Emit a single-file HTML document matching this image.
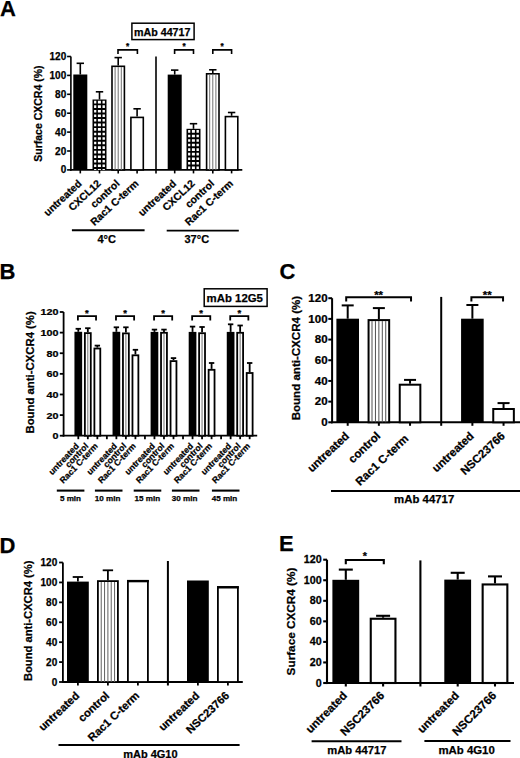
<!DOCTYPE html>
<html><head><meta charset="utf-8"><style>
html,body{margin:0;padding:0;background:#fff;width:520px;height:758px;overflow:hidden}
text{font-family:"Liberation Sans", sans-serif;stroke:#000;stroke-width:0.25px}
</style></head><body>
<svg width="520" height="758" viewBox="0 0 520 758" font-family='"Liberation Sans", sans-serif' style="display:block"><defs></defs><text x="0.00" y="15.60" font-size="22" text-anchor="start" font-weight="bold">A</text>
<rect x="131.9" y="23.2" width="62.2" height="16.4" fill="#fff" stroke="#000" stroke-width="1.5"/>
<text x="134.00" y="35.80" font-size="10.7" text-anchor="start" font-weight="bold">mAb 44717</text>
<line x1="70.90" y1="56.50" x2="70.90" y2="170.70" stroke="#000" stroke-width="1.6"/>
<line x1="70.10" y1="169.90" x2="242.30" y2="169.90" stroke="#000" stroke-width="1.6"/>
<line x1="67.10" y1="169.90" x2="70.90" y2="169.90" stroke="#000" stroke-width="1.6"/>
<text x="0" y="0" font-size="10" text-anchor="end" font-weight="bold" transform="translate(66.20 173.45) scale(1.0 1)">0</text>
<line x1="67.10" y1="151.00" x2="70.90" y2="151.00" stroke="#000" stroke-width="1.6"/>
<text x="0" y="0" font-size="10" text-anchor="end" font-weight="bold" transform="translate(66.20 154.55) scale(1.0 1)">20</text>
<line x1="67.10" y1="132.10" x2="70.90" y2="132.10" stroke="#000" stroke-width="1.6"/>
<text x="0" y="0" font-size="10" text-anchor="end" font-weight="bold" transform="translate(66.20 135.65) scale(1.0 1)">40</text>
<line x1="67.10" y1="113.20" x2="70.90" y2="113.20" stroke="#000" stroke-width="1.6"/>
<text x="0" y="0" font-size="10" text-anchor="end" font-weight="bold" transform="translate(66.20 116.75) scale(1.0 1)">60</text>
<line x1="67.10" y1="94.30" x2="70.90" y2="94.30" stroke="#000" stroke-width="1.6"/>
<text x="0" y="0" font-size="10" text-anchor="end" font-weight="bold" transform="translate(66.20 97.85) scale(1.0 1)">80</text>
<line x1="67.10" y1="75.40" x2="70.90" y2="75.40" stroke="#000" stroke-width="1.6"/>
<text x="0" y="0" font-size="10" text-anchor="end" font-weight="bold" transform="translate(66.20 78.95) scale(1.0 1)">100</text>
<line x1="67.10" y1="56.50" x2="70.90" y2="56.50" stroke="#000" stroke-width="1.6"/>
<text x="0" y="0" font-size="10" text-anchor="end" font-weight="bold" transform="translate(66.20 60.05) scale(1.0 1)">120</text>
<text x="41.90" y="113.60" font-size="10.5" text-anchor="middle" font-weight="bold" transform="rotate(-90 41.90 113.60)">Surface CXCR4 (%)</text>
<line x1="80.30" y1="74.50" x2="80.30" y2="63.30" stroke="#000" stroke-width="1.6"/>
<line x1="76.60" y1="63.30" x2="84.00" y2="63.30" stroke="#000" stroke-width="1.6"/>
<rect x="73.30" y="74.50" width="14.00" height="95.40" fill="#000"/>
<line x1="80.30" y1="169.90" x2="80.30" y2="173.40" stroke="#000" stroke-width="1.6"/>
<line x1="99.50" y1="99.50" x2="99.50" y2="91.80" stroke="#000" stroke-width="1.6"/>
<line x1="95.80" y1="91.80" x2="103.20" y2="91.80" stroke="#000" stroke-width="1.6"/>
<rect x="92.50" y="99.50" width="14.00" height="70.40" fill="#000"/>
<path d="M94.10 100.80h2.2v2.60h-2.2zM97.90 100.80h3.0v2.60h-3.0zM102.50 100.80h2.4v2.60h-2.4zM94.10 105.35h2.2v2.60h-2.2zM97.90 105.35h3.0v2.60h-3.0zM102.50 105.35h2.4v2.60h-2.4zM94.10 109.90h2.2v2.60h-2.2zM97.90 109.90h3.0v2.60h-3.0zM102.50 109.90h2.4v2.60h-2.4zM94.10 114.45h2.2v2.60h-2.2zM97.90 114.45h3.0v2.60h-3.0zM102.50 114.45h2.4v2.60h-2.4zM94.10 119.00h2.2v2.60h-2.2zM97.90 119.00h3.0v2.60h-3.0zM102.50 119.00h2.4v2.60h-2.4zM94.10 123.55h2.2v2.60h-2.2zM97.90 123.55h3.0v2.60h-3.0zM102.50 123.55h2.4v2.60h-2.4zM94.10 128.10h2.2v2.60h-2.2zM97.90 128.10h3.0v2.60h-3.0zM102.50 128.10h2.4v2.60h-2.4zM94.10 132.65h2.2v2.60h-2.2zM97.90 132.65h3.0v2.60h-3.0zM102.50 132.65h2.4v2.60h-2.4zM94.10 137.20h2.2v2.60h-2.2zM97.90 137.20h3.0v2.60h-3.0zM102.50 137.20h2.4v2.60h-2.4zM94.10 141.75h2.2v2.60h-2.2zM97.90 141.75h3.0v2.60h-3.0zM102.50 141.75h2.4v2.60h-2.4zM94.10 146.30h2.2v2.60h-2.2zM97.90 146.30h3.0v2.60h-3.0zM102.50 146.30h2.4v2.60h-2.4zM94.10 150.85h2.2v2.60h-2.2zM97.90 150.85h3.0v2.60h-3.0zM102.50 150.85h2.4v2.60h-2.4zM94.10 155.40h2.2v2.60h-2.2zM97.90 155.40h3.0v2.60h-3.0zM102.50 155.40h2.4v2.60h-2.4zM94.10 159.95h2.2v2.60h-2.2zM97.90 159.95h3.0v2.60h-3.0zM102.50 159.95h2.4v2.60h-2.4zM94.10 164.50h2.2v2.60h-2.2zM97.90 164.50h3.0v2.60h-3.0zM102.50 164.50h2.4v2.60h-2.4zM94.10 169.05h2.2v0.85h-2.2zM97.90 169.05h3.0v0.85h-3.0zM102.50 169.05h2.4v0.85h-2.4z" fill="#fff"/>
<line x1="99.50" y1="169.90" x2="99.50" y2="173.40" stroke="#000" stroke-width="1.6"/>
<line x1="118.20" y1="65.50" x2="118.20" y2="57.60" stroke="#000" stroke-width="1.6"/>
<line x1="114.50" y1="57.60" x2="121.90" y2="57.60" stroke="#000" stroke-width="1.6"/>
<rect x="112.00" y="66.30" width="12.40" height="103.60" fill="#fff" stroke="#000" stroke-width="1.6"/>
<line x1="115.10" y1="67.10" x2="115.10" y2="169.90" stroke="#707070" stroke-width="1.0"/>
<line x1="118.20" y1="67.10" x2="118.20" y2="169.90" stroke="#707070" stroke-width="1.0"/>
<line x1="121.30" y1="67.10" x2="121.30" y2="169.90" stroke="#707070" stroke-width="1.0"/>
<line x1="118.20" y1="169.90" x2="118.20" y2="173.40" stroke="#000" stroke-width="1.6"/>
<line x1="137.10" y1="116.60" x2="137.10" y2="108.80" stroke="#000" stroke-width="1.6"/>
<line x1="133.40" y1="108.80" x2="140.80" y2="108.80" stroke="#000" stroke-width="1.6"/>
<rect x="130.90" y="117.40" width="12.40" height="52.50" fill="#fff" stroke="#000" stroke-width="1.6"/>
<line x1="137.10" y1="169.90" x2="137.10" y2="173.40" stroke="#000" stroke-width="1.6"/>
<line x1="156.00" y1="56.50" x2="156.00" y2="173.50" stroke="#000" stroke-width="1.6"/>
<line x1="174.70" y1="74.60" x2="174.70" y2="70.10" stroke="#000" stroke-width="1.6"/>
<line x1="171.00" y1="70.10" x2="178.40" y2="70.10" stroke="#000" stroke-width="1.6"/>
<rect x="167.70" y="74.60" width="14.00" height="95.30" fill="#000"/>
<line x1="174.70" y1="169.90" x2="174.70" y2="173.40" stroke="#000" stroke-width="1.6"/>
<line x1="193.50" y1="128.80" x2="193.50" y2="123.70" stroke="#000" stroke-width="1.6"/>
<line x1="189.80" y1="123.70" x2="197.20" y2="123.70" stroke="#000" stroke-width="1.6"/>
<rect x="186.50" y="128.80" width="14.00" height="41.10" fill="#000"/>
<path d="M188.10 130.10h2.2v2.60h-2.2zM191.90 130.10h3.0v2.60h-3.0zM196.50 130.10h2.4v2.60h-2.4zM188.10 134.65h2.2v2.60h-2.2zM191.90 134.65h3.0v2.60h-3.0zM196.50 134.65h2.4v2.60h-2.4zM188.10 139.20h2.2v2.60h-2.2zM191.90 139.20h3.0v2.60h-3.0zM196.50 139.20h2.4v2.60h-2.4zM188.10 143.75h2.2v2.60h-2.2zM191.90 143.75h3.0v2.60h-3.0zM196.50 143.75h2.4v2.60h-2.4zM188.10 148.30h2.2v2.60h-2.2zM191.90 148.30h3.0v2.60h-3.0zM196.50 148.30h2.4v2.60h-2.4zM188.10 152.85h2.2v2.60h-2.2zM191.90 152.85h3.0v2.60h-3.0zM196.50 152.85h2.4v2.60h-2.4zM188.10 157.40h2.2v2.60h-2.2zM191.90 157.40h3.0v2.60h-3.0zM196.50 157.40h2.4v2.60h-2.4zM188.10 161.95h2.2v2.60h-2.2zM191.90 161.95h3.0v2.60h-3.0zM196.50 161.95h2.4v2.60h-2.4zM188.10 166.50h2.2v2.60h-2.2zM191.90 166.50h3.0v2.60h-3.0zM196.50 166.50h2.4v2.60h-2.4z" fill="#fff"/>
<line x1="193.50" y1="169.90" x2="193.50" y2="173.40" stroke="#000" stroke-width="1.6"/>
<line x1="212.80" y1="73.00" x2="212.80" y2="69.80" stroke="#000" stroke-width="1.6"/>
<line x1="209.10" y1="69.80" x2="216.50" y2="69.80" stroke="#000" stroke-width="1.6"/>
<rect x="206.60" y="73.80" width="12.40" height="96.10" fill="#fff" stroke="#000" stroke-width="1.6"/>
<line x1="209.70" y1="74.60" x2="209.70" y2="169.90" stroke="#707070" stroke-width="1.0"/>
<line x1="212.80" y1="74.60" x2="212.80" y2="169.90" stroke="#707070" stroke-width="1.0"/>
<line x1="215.90" y1="74.60" x2="215.90" y2="169.90" stroke="#707070" stroke-width="1.0"/>
<line x1="212.80" y1="169.90" x2="212.80" y2="173.40" stroke="#000" stroke-width="1.6"/>
<line x1="231.60" y1="115.80" x2="231.60" y2="112.50" stroke="#000" stroke-width="1.6"/>
<line x1="227.90" y1="112.50" x2="235.30" y2="112.50" stroke="#000" stroke-width="1.6"/>
<rect x="225.40" y="116.60" width="12.40" height="53.30" fill="#fff" stroke="#000" stroke-width="1.6"/>
<line x1="231.60" y1="169.90" x2="231.60" y2="173.40" stroke="#000" stroke-width="1.6"/>
<path d="M118.00 53.90V49.90H137.40V53.90" fill="none" stroke="#000" stroke-width="1.6"/>
<text x="127.70" y="48.60" font-size="8.2" text-anchor="middle" font-weight="bold">*</text>
<path d="M174.60 53.90V49.90H193.50V53.90" fill="none" stroke="#000" stroke-width="1.6"/>
<text x="184.05" y="48.60" font-size="8.2" text-anchor="middle" font-weight="bold">*</text>
<path d="M212.80 53.90V49.90H231.60V53.90" fill="none" stroke="#000" stroke-width="1.6"/>
<text x="222.20" y="48.60" font-size="8.2" text-anchor="middle" font-weight="bold">*</text>
<text x="0" y="0" font-size="10.4" text-anchor="end" font-weight="bold" transform="translate(82.40 184.40) rotate(-43)">untreated</text>
<text x="0" y="0" font-size="10.4" text-anchor="end" font-weight="bold" transform="translate(101.60 184.40) rotate(-43)">CXCL12</text>
<text x="0" y="0" font-size="10.4" text-anchor="end" font-weight="bold" transform="translate(120.30 184.40) rotate(-43)">control</text>
<text x="0" y="0" font-size="10.4" text-anchor="end" font-weight="bold" transform="translate(139.20 184.40) rotate(-43)">Rac1 C-term</text>
<text x="0" y="0" font-size="10.4" text-anchor="end" font-weight="bold" transform="translate(176.80 184.40) rotate(-43)">untreated</text>
<text x="0" y="0" font-size="10.4" text-anchor="end" font-weight="bold" transform="translate(195.60 184.40) rotate(-43)">CXCL12</text>
<text x="0" y="0" font-size="10.4" text-anchor="end" font-weight="bold" transform="translate(214.90 184.40) rotate(-43)">control</text>
<text x="0" y="0" font-size="10.4" text-anchor="end" font-weight="bold" transform="translate(233.70 184.40) rotate(-43)">Rac1 C-term</text>
<line x1="71.90" y1="230.30" x2="144.60" y2="230.30" stroke="#000" stroke-width="1.9"/>
<line x1="166.70" y1="230.60" x2="238.80" y2="230.60" stroke="#000" stroke-width="1.9"/>
<text x="106.70" y="242.80" font-size="11" text-anchor="middle" font-weight="bold">4°C</text>
<text x="196.80" y="242.80" font-size="11" text-anchor="middle" font-weight="bold">37°C</text>
<text x="-0.50" y="279.20" font-size="22" text-anchor="start" font-weight="bold">B</text>
<rect x="204.2" y="288.8" width="62.9" height="17.6" fill="#fff" stroke="#000" stroke-width="1.5"/>
<text x="206.60" y="302.00" font-size="11.4" text-anchor="start" font-weight="bold">mAb 12G5</text>
<line x1="63.60" y1="312.00" x2="63.60" y2="436.60" stroke="#000" stroke-width="1.8"/>
<line x1="62.70" y1="435.70" x2="257.20" y2="435.70" stroke="#000" stroke-width="1.8"/>
<line x1="59.80" y1="435.70" x2="63.60" y2="435.70" stroke="#000" stroke-width="1.8"/>
<text x="0" y="0" font-size="9.8" text-anchor="end" font-weight="bold" transform="translate(58.50 439.18) scale(1.1 1)">0</text>
<line x1="59.80" y1="415.08" x2="63.60" y2="415.08" stroke="#000" stroke-width="1.8"/>
<text x="0" y="0" font-size="9.8" text-anchor="end" font-weight="bold" transform="translate(58.50 418.56) scale(1.1 1)">20</text>
<line x1="59.80" y1="394.47" x2="63.60" y2="394.47" stroke="#000" stroke-width="1.8"/>
<text x="0" y="0" font-size="9.8" text-anchor="end" font-weight="bold" transform="translate(58.50 397.95) scale(1.1 1)">40</text>
<line x1="59.80" y1="373.85" x2="63.60" y2="373.85" stroke="#000" stroke-width="1.8"/>
<text x="0" y="0" font-size="9.8" text-anchor="end" font-weight="bold" transform="translate(58.50 377.33) scale(1.1 1)">60</text>
<line x1="59.80" y1="353.23" x2="63.60" y2="353.23" stroke="#000" stroke-width="1.8"/>
<text x="0" y="0" font-size="9.8" text-anchor="end" font-weight="bold" transform="translate(58.50 356.71) scale(1.1 1)">80</text>
<line x1="59.80" y1="332.62" x2="63.60" y2="332.62" stroke="#000" stroke-width="1.8"/>
<text x="0" y="0" font-size="9.8" text-anchor="end" font-weight="bold" transform="translate(58.50 336.10) scale(1.1 1)">100</text>
<line x1="59.80" y1="312.00" x2="63.60" y2="312.00" stroke="#000" stroke-width="1.8"/>
<text x="0" y="0" font-size="9.8" text-anchor="end" font-weight="bold" transform="translate(58.50 315.48) scale(1.1 1)">120</text>
<text x="33.80" y="372.40" font-size="11.35" text-anchor="middle" font-weight="bold" transform="rotate(-90 33.80 372.40)">Bound anti-CXCR4 (%)</text>
<line x1="78.30" y1="331.80" x2="78.30" y2="328.80" stroke="#000" stroke-width="1.8"/>
<line x1="75.60" y1="328.80" x2="81.00" y2="328.80" stroke="#000" stroke-width="1.8"/>
<rect x="74.45" y="331.80" width="7.70" height="103.90" fill="#000"/>
<line x1="78.30" y1="435.70" x2="78.30" y2="439.20" stroke="#000" stroke-width="1.8"/>
<line x1="87.82" y1="332.20" x2="87.82" y2="328.20" stroke="#000" stroke-width="1.8"/>
<line x1="85.12" y1="328.20" x2="90.52" y2="328.20" stroke="#000" stroke-width="1.8"/>
<rect x="84.87" y="333.10" width="5.90" height="102.60" fill="#fff" stroke="#000" stroke-width="1.8"/>
<line x1="87.82" y1="334.00" x2="87.82" y2="435.70" stroke="#707070" stroke-width="1.0"/>
<line x1="87.82" y1="435.70" x2="87.82" y2="439.20" stroke="#000" stroke-width="1.8"/>
<line x1="97.34" y1="347.60" x2="97.34" y2="345.60" stroke="#000" stroke-width="1.8"/>
<line x1="94.64" y1="345.60" x2="100.04" y2="345.60" stroke="#000" stroke-width="1.8"/>
<rect x="94.39" y="348.50" width="5.90" height="87.20" fill="#fff" stroke="#000" stroke-width="1.8"/>
<line x1="97.34" y1="435.70" x2="97.34" y2="439.20" stroke="#000" stroke-width="1.8"/>
<line x1="106.86" y1="435.70" x2="106.86" y2="439.20" stroke="#000" stroke-width="1.8"/>
<path d="M77.90 320.40V316.20H96.04V320.40" fill="none" stroke="#000" stroke-width="1.8"/>
<text x="86.97" y="316.40" font-size="9.5" text-anchor="middle" font-weight="bold">*</text>
<text x="0" y="0" font-size="9.0" text-anchor="end" font-weight="bold" transform="translate(79.30 446.60) scale(0.936 1) rotate(-45)">untreated</text>
<text x="0" y="0" font-size="9.0" text-anchor="end" font-weight="bold" transform="translate(88.82 446.60) scale(0.936 1) rotate(-45)">control</text>
<text x="0" y="0" font-size="9.0" text-anchor="end" font-weight="bold" transform="translate(98.34 446.60) scale(0.936 1) rotate(-45)">Rac1 C-term</text>
<line x1="56.80" y1="490.60" x2="84.40" y2="490.60" stroke="#000" stroke-width="2.1"/>
<text x="70.50" y="500.50" font-size="8.1" text-anchor="middle" font-weight="bold">5 min</text>
<line x1="116.38" y1="331.80" x2="116.38" y2="327.30" stroke="#000" stroke-width="1.8"/>
<line x1="113.68" y1="327.30" x2="119.08" y2="327.30" stroke="#000" stroke-width="1.8"/>
<rect x="112.53" y="331.80" width="7.70" height="103.90" fill="#000"/>
<line x1="116.38" y1="435.70" x2="116.38" y2="439.20" stroke="#000" stroke-width="1.8"/>
<line x1="125.90" y1="332.50" x2="125.90" y2="327.30" stroke="#000" stroke-width="1.8"/>
<line x1="123.20" y1="327.30" x2="128.60" y2="327.30" stroke="#000" stroke-width="1.8"/>
<rect x="122.95" y="333.40" width="5.90" height="102.30" fill="#fff" stroke="#000" stroke-width="1.8"/>
<line x1="125.90" y1="334.30" x2="125.90" y2="435.70" stroke="#707070" stroke-width="1.0"/>
<line x1="125.90" y1="435.70" x2="125.90" y2="439.20" stroke="#000" stroke-width="1.8"/>
<line x1="135.42" y1="354.40" x2="135.42" y2="349.80" stroke="#000" stroke-width="1.8"/>
<line x1="132.72" y1="349.80" x2="138.12" y2="349.80" stroke="#000" stroke-width="1.8"/>
<rect x="132.47" y="355.30" width="5.90" height="80.40" fill="#fff" stroke="#000" stroke-width="1.8"/>
<line x1="135.42" y1="435.70" x2="135.42" y2="439.20" stroke="#000" stroke-width="1.8"/>
<line x1="144.94" y1="435.70" x2="144.94" y2="439.20" stroke="#000" stroke-width="1.8"/>
<path d="M115.98 320.40V316.20H134.12V320.40" fill="none" stroke="#000" stroke-width="1.8"/>
<text x="125.05" y="316.40" font-size="9.5" text-anchor="middle" font-weight="bold">*</text>
<text x="0" y="0" font-size="9.0" text-anchor="end" font-weight="bold" transform="translate(117.38 446.60) scale(0.936 1) rotate(-45)">untreated</text>
<text x="0" y="0" font-size="9.0" text-anchor="end" font-weight="bold" transform="translate(126.90 446.60) scale(0.936 1) rotate(-45)">control</text>
<text x="0" y="0" font-size="9.0" text-anchor="end" font-weight="bold" transform="translate(136.42 446.60) scale(0.936 1) rotate(-45)">Rac1 C-term</text>
<line x1="94.90" y1="490.60" x2="122.50" y2="490.60" stroke="#000" stroke-width="2.1"/>
<text x="107.70" y="500.50" font-size="8.1" text-anchor="middle" font-weight="bold">10 min</text>
<line x1="154.46" y1="331.90" x2="154.46" y2="329.60" stroke="#000" stroke-width="1.8"/>
<line x1="151.76" y1="329.60" x2="157.16" y2="329.60" stroke="#000" stroke-width="1.8"/>
<rect x="150.61" y="331.90" width="7.70" height="103.80" fill="#000"/>
<line x1="154.46" y1="435.70" x2="154.46" y2="439.20" stroke="#000" stroke-width="1.8"/>
<line x1="163.98" y1="331.90" x2="163.98" y2="329.60" stroke="#000" stroke-width="1.8"/>
<line x1="161.28" y1="329.60" x2="166.68" y2="329.60" stroke="#000" stroke-width="1.8"/>
<rect x="161.03" y="332.80" width="5.90" height="102.90" fill="#fff" stroke="#000" stroke-width="1.8"/>
<line x1="163.98" y1="333.70" x2="163.98" y2="435.70" stroke="#707070" stroke-width="1.0"/>
<line x1="163.98" y1="435.70" x2="163.98" y2="439.20" stroke="#000" stroke-width="1.8"/>
<line x1="173.50" y1="360.20" x2="173.50" y2="358.10" stroke="#000" stroke-width="1.8"/>
<line x1="170.80" y1="358.10" x2="176.20" y2="358.10" stroke="#000" stroke-width="1.8"/>
<rect x="170.55" y="361.10" width="5.90" height="74.60" fill="#fff" stroke="#000" stroke-width="1.8"/>
<line x1="173.50" y1="435.70" x2="173.50" y2="439.20" stroke="#000" stroke-width="1.8"/>
<line x1="183.02" y1="435.70" x2="183.02" y2="439.20" stroke="#000" stroke-width="1.8"/>
<path d="M154.06 320.40V316.20H172.20V320.40" fill="none" stroke="#000" stroke-width="1.8"/>
<text x="163.13" y="316.40" font-size="9.5" text-anchor="middle" font-weight="bold">*</text>
<text x="0" y="0" font-size="9.0" text-anchor="end" font-weight="bold" transform="translate(155.46 446.60) scale(0.936 1) rotate(-45)">untreated</text>
<text x="0" y="0" font-size="9.0" text-anchor="end" font-weight="bold" transform="translate(164.98 446.60) scale(0.936 1) rotate(-45)">control</text>
<text x="0" y="0" font-size="9.0" text-anchor="end" font-weight="bold" transform="translate(174.50 446.60) scale(0.936 1) rotate(-45)">Rac1 C-term</text>
<line x1="133.70" y1="490.60" x2="161.30" y2="490.60" stroke="#000" stroke-width="2.1"/>
<text x="147.30" y="500.50" font-size="8.1" text-anchor="middle" font-weight="bold">15 min</text>
<line x1="192.54" y1="331.90" x2="192.54" y2="326.60" stroke="#000" stroke-width="1.8"/>
<line x1="189.84" y1="326.60" x2="195.24" y2="326.60" stroke="#000" stroke-width="1.8"/>
<rect x="188.69" y="331.90" width="7.70" height="103.80" fill="#000"/>
<line x1="192.54" y1="435.70" x2="192.54" y2="439.20" stroke="#000" stroke-width="1.8"/>
<line x1="202.06" y1="332.30" x2="202.06" y2="327.00" stroke="#000" stroke-width="1.8"/>
<line x1="199.36" y1="327.00" x2="204.76" y2="327.00" stroke="#000" stroke-width="1.8"/>
<rect x="199.11" y="333.20" width="5.90" height="102.50" fill="#fff" stroke="#000" stroke-width="1.8"/>
<line x1="202.06" y1="334.10" x2="202.06" y2="435.70" stroke="#707070" stroke-width="1.0"/>
<line x1="202.06" y1="435.70" x2="202.06" y2="439.20" stroke="#000" stroke-width="1.8"/>
<line x1="211.58" y1="368.90" x2="211.58" y2="363.00" stroke="#000" stroke-width="1.8"/>
<line x1="208.88" y1="363.00" x2="214.28" y2="363.00" stroke="#000" stroke-width="1.8"/>
<rect x="208.63" y="369.80" width="5.90" height="65.90" fill="#fff" stroke="#000" stroke-width="1.8"/>
<line x1="211.58" y1="435.70" x2="211.58" y2="439.20" stroke="#000" stroke-width="1.8"/>
<line x1="221.10" y1="435.70" x2="221.10" y2="439.20" stroke="#000" stroke-width="1.8"/>
<path d="M192.14 320.40V316.20H210.28V320.40" fill="none" stroke="#000" stroke-width="1.8"/>
<text x="201.21" y="316.40" font-size="9.5" text-anchor="middle" font-weight="bold">*</text>
<text x="0" y="0" font-size="9.0" text-anchor="end" font-weight="bold" transform="translate(193.54 446.60) scale(0.936 1) rotate(-45)">untreated</text>
<text x="0" y="0" font-size="9.0" text-anchor="end" font-weight="bold" transform="translate(203.06 446.60) scale(0.936 1) rotate(-45)">control</text>
<text x="0" y="0" font-size="9.0" text-anchor="end" font-weight="bold" transform="translate(212.58 446.60) scale(0.936 1) rotate(-45)">Rac1 C-term</text>
<line x1="171.90" y1="490.60" x2="199.50" y2="490.60" stroke="#000" stroke-width="2.1"/>
<text x="184.60" y="500.50" font-size="8.1" text-anchor="middle" font-weight="bold">30 min</text>
<line x1="230.62" y1="331.90" x2="230.62" y2="324.30" stroke="#000" stroke-width="1.8"/>
<line x1="227.92" y1="324.30" x2="233.32" y2="324.30" stroke="#000" stroke-width="1.8"/>
<rect x="226.77" y="331.90" width="7.70" height="103.80" fill="#000"/>
<line x1="230.62" y1="435.70" x2="230.62" y2="439.20" stroke="#000" stroke-width="1.8"/>
<line x1="240.14" y1="331.90" x2="240.14" y2="325.50" stroke="#000" stroke-width="1.8"/>
<line x1="237.44" y1="325.50" x2="242.84" y2="325.50" stroke="#000" stroke-width="1.8"/>
<rect x="237.19" y="332.80" width="5.90" height="102.90" fill="#fff" stroke="#000" stroke-width="1.8"/>
<line x1="240.14" y1="333.70" x2="240.14" y2="435.70" stroke="#707070" stroke-width="1.0"/>
<line x1="240.14" y1="435.70" x2="240.14" y2="439.20" stroke="#000" stroke-width="1.8"/>
<line x1="249.66" y1="372.10" x2="249.66" y2="363.00" stroke="#000" stroke-width="1.8"/>
<line x1="246.96" y1="363.00" x2="252.36" y2="363.00" stroke="#000" stroke-width="1.8"/>
<rect x="246.71" y="373.00" width="5.90" height="62.70" fill="#fff" stroke="#000" stroke-width="1.8"/>
<line x1="249.66" y1="435.70" x2="249.66" y2="439.20" stroke="#000" stroke-width="1.8"/>
<path d="M230.22 320.40V316.20H248.36V320.40" fill="none" stroke="#000" stroke-width="1.8"/>
<text x="239.29" y="316.40" font-size="9.5" text-anchor="middle" font-weight="bold">*</text>
<text x="0" y="0" font-size="9.0" text-anchor="end" font-weight="bold" transform="translate(231.62 446.60) scale(0.936 1) rotate(-45)">untreated</text>
<text x="0" y="0" font-size="9.0" text-anchor="end" font-weight="bold" transform="translate(241.14 446.60) scale(0.936 1) rotate(-45)">control</text>
<text x="0" y="0" font-size="9.0" text-anchor="end" font-weight="bold" transform="translate(250.66 446.60) scale(0.936 1) rotate(-45)">Rac1 C-term</text>
<line x1="211.90" y1="490.60" x2="239.50" y2="490.60" stroke="#000" stroke-width="2.1"/>
<text x="224.50" y="500.50" font-size="8.1" text-anchor="middle" font-weight="bold">45 min</text>
<text x="279.40" y="279.00" font-size="22" text-anchor="start" font-weight="bold">C</text>
<line x1="332.10" y1="298.20" x2="332.10" y2="423.30" stroke="#000" stroke-width="2.0"/>
<line x1="331.10" y1="422.30" x2="520.50" y2="422.30" stroke="#000" stroke-width="2.0"/>
<line x1="328.30" y1="422.30" x2="332.10" y2="422.30" stroke="#000" stroke-width="2.0"/>
<text x="0" y="0" font-size="10.5" text-anchor="end" font-weight="bold" transform="translate(327.60 426.03) scale(1.1 1)">0</text>
<line x1="328.30" y1="401.62" x2="332.10" y2="401.62" stroke="#000" stroke-width="2.0"/>
<text x="0" y="0" font-size="10.5" text-anchor="end" font-weight="bold" transform="translate(327.60 405.34) scale(1.1 1)">20</text>
<line x1="328.30" y1="380.93" x2="332.10" y2="380.93" stroke="#000" stroke-width="2.0"/>
<text x="0" y="0" font-size="10.5" text-anchor="end" font-weight="bold" transform="translate(327.60 384.66) scale(1.1 1)">40</text>
<line x1="328.30" y1="360.25" x2="332.10" y2="360.25" stroke="#000" stroke-width="2.0"/>
<text x="0" y="0" font-size="10.5" text-anchor="end" font-weight="bold" transform="translate(327.60 363.98) scale(1.1 1)">60</text>
<line x1="328.30" y1="339.57" x2="332.10" y2="339.57" stroke="#000" stroke-width="2.0"/>
<text x="0" y="0" font-size="10.5" text-anchor="end" font-weight="bold" transform="translate(327.60 343.29) scale(1.1 1)">80</text>
<line x1="328.30" y1="318.88" x2="332.10" y2="318.88" stroke="#000" stroke-width="2.0"/>
<text x="0" y="0" font-size="10.5" text-anchor="end" font-weight="bold" transform="translate(327.60 322.61) scale(1.1 1)">100</text>
<line x1="328.30" y1="298.20" x2="332.10" y2="298.20" stroke="#000" stroke-width="2.0"/>
<text x="0" y="0" font-size="10.5" text-anchor="end" font-weight="bold" transform="translate(327.60 301.93) scale(1.1 1)">120</text>
<text x="299.90" y="358.10" font-size="11.55" text-anchor="middle" font-weight="bold" transform="rotate(-90 299.90 358.10)">Bound anti-CXCR4 (%)</text>
<line x1="347.70" y1="318.70" x2="347.70" y2="305.40" stroke="#000" stroke-width="2.0"/>
<line x1="341.70" y1="305.40" x2="353.70" y2="305.40" stroke="#000" stroke-width="2.0"/>
<rect x="336.40" y="318.70" width="22.60" height="103.60" fill="#000"/>
<line x1="347.70" y1="422.30" x2="347.70" y2="425.80" stroke="#000" stroke-width="2.0"/>
<line x1="378.87" y1="319.10" x2="378.87" y2="308.10" stroke="#000" stroke-width="2.0"/>
<line x1="372.87" y1="308.10" x2="384.87" y2="308.10" stroke="#000" stroke-width="2.0"/>
<rect x="368.57" y="320.10" width="20.60" height="102.20" fill="#fff" stroke="#000" stroke-width="2.0"/>
<line x1="372.00" y1="321.10" x2="372.00" y2="422.30" stroke="#505050" stroke-width="1.0"/>
<line x1="375.44" y1="321.10" x2="375.44" y2="422.30" stroke="#505050" stroke-width="1.0"/>
<line x1="378.87" y1="321.10" x2="378.87" y2="422.30" stroke="#505050" stroke-width="1.0"/>
<line x1="382.30" y1="321.10" x2="382.30" y2="422.30" stroke="#505050" stroke-width="1.0"/>
<line x1="385.74" y1="321.10" x2="385.74" y2="422.30" stroke="#505050" stroke-width="1.0"/>
<line x1="378.87" y1="422.30" x2="378.87" y2="425.80" stroke="#000" stroke-width="2.0"/>
<line x1="410.04" y1="383.70" x2="410.04" y2="379.90" stroke="#000" stroke-width="2.0"/>
<line x1="404.04" y1="379.90" x2="416.04" y2="379.90" stroke="#000" stroke-width="2.0"/>
<rect x="399.74" y="384.70" width="20.60" height="37.60" fill="#fff" stroke="#000" stroke-width="2.0"/>
<line x1="410.04" y1="422.30" x2="410.04" y2="425.80" stroke="#000" stroke-width="2.0"/>
<line x1="441.21" y1="296.90" x2="441.21" y2="425.80" stroke="#000" stroke-width="2.0"/>
<line x1="472.38" y1="318.70" x2="472.38" y2="305.00" stroke="#000" stroke-width="2.0"/>
<line x1="466.38" y1="305.00" x2="478.38" y2="305.00" stroke="#000" stroke-width="2.0"/>
<rect x="461.08" y="318.70" width="22.60" height="103.60" fill="#000"/>
<line x1="472.38" y1="422.30" x2="472.38" y2="425.80" stroke="#000" stroke-width="2.0"/>
<line x1="503.55" y1="408.00" x2="503.55" y2="403.10" stroke="#000" stroke-width="2.0"/>
<line x1="497.55" y1="403.10" x2="509.55" y2="403.10" stroke="#000" stroke-width="2.0"/>
<rect x="493.25" y="409.00" width="20.60" height="13.30" fill="#fff" stroke="#000" stroke-width="2.0"/>
<line x1="503.55" y1="422.30" x2="503.55" y2="425.80" stroke="#000" stroke-width="2.0"/>
<path d="M346.20 301.50V297.20H411.04V301.50" fill="none" stroke="#000" stroke-width="2.0"/>
<text x="378.62" y="298.50" font-size="11.5" text-anchor="middle" font-weight="bold">**</text>
<path d="M471.38 301.50V297.20H503.05V301.50" fill="none" stroke="#000" stroke-width="2.0"/>
<text x="487.22" y="298.50" font-size="11.5" text-anchor="middle" font-weight="bold">**</text>
<text x="0" y="0" font-size="11.5" text-anchor="end" font-weight="bold" transform="translate(349.90 436.80) rotate(-43.5)">untreated</text>
<text x="0" y="0" font-size="11.5" text-anchor="end" font-weight="bold" transform="translate(381.07 436.80) rotate(-43.5)">control</text>
<text x="0" y="0" font-size="11.5" text-anchor="end" font-weight="bold" transform="translate(409.24 439.50) rotate(-43.5)">Rac1 C-term</text>
<text x="0" y="0" font-size="11.5" text-anchor="end" font-weight="bold" transform="translate(474.58 436.80) rotate(-43.5)">untreated</text>
<text x="0" y="0" font-size="11.5" text-anchor="end" font-weight="bold" transform="translate(505.75 436.80) rotate(-43.5)">NSC23766</text>
<line x1="331.00" y1="491.00" x2="520.50" y2="491.00" stroke="#000" stroke-width="2.1"/>
<text x="424.20" y="502.60" font-size="11.4" text-anchor="middle" font-weight="bold">mAb 44717</text>
<text x="-0.50" y="552.60" font-size="22" text-anchor="start" font-weight="bold">D</text>
<line x1="62.90" y1="562.50" x2="62.90" y2="682.90" stroke="#000" stroke-width="1.8"/>
<line x1="62.00" y1="682.00" x2="242.80" y2="682.00" stroke="#000" stroke-width="1.8"/>
<line x1="59.10" y1="682.00" x2="62.90" y2="682.00" stroke="#000" stroke-width="1.8"/>
<text x="0" y="0" font-size="10" text-anchor="end" font-weight="bold" transform="translate(57.20 685.55) scale(1.0 1)">0</text>
<line x1="59.10" y1="662.08" x2="62.90" y2="662.08" stroke="#000" stroke-width="1.8"/>
<text x="0" y="0" font-size="10" text-anchor="end" font-weight="bold" transform="translate(57.20 665.63) scale(1.0 1)">20</text>
<line x1="59.10" y1="642.17" x2="62.90" y2="642.17" stroke="#000" stroke-width="1.8"/>
<text x="0" y="0" font-size="10" text-anchor="end" font-weight="bold" transform="translate(57.20 645.72) scale(1.0 1)">40</text>
<line x1="59.10" y1="622.25" x2="62.90" y2="622.25" stroke="#000" stroke-width="1.8"/>
<text x="0" y="0" font-size="10" text-anchor="end" font-weight="bold" transform="translate(57.20 625.80) scale(1.0 1)">60</text>
<line x1="59.10" y1="602.33" x2="62.90" y2="602.33" stroke="#000" stroke-width="1.8"/>
<text x="0" y="0" font-size="10" text-anchor="end" font-weight="bold" transform="translate(57.20 605.88) scale(1.0 1)">80</text>
<line x1="59.10" y1="582.42" x2="62.90" y2="582.42" stroke="#000" stroke-width="1.8"/>
<text x="0" y="0" font-size="10" text-anchor="end" font-weight="bold" transform="translate(57.20 585.97) scale(1.0 1)">100</text>
<line x1="59.10" y1="562.50" x2="62.90" y2="562.50" stroke="#000" stroke-width="1.8"/>
<text x="0" y="0" font-size="10" text-anchor="end" font-weight="bold" transform="translate(57.20 566.05) scale(1.0 1)">120</text>
<text x="31.90" y="620.80" font-size="11.2" text-anchor="middle" font-weight="bold" transform="rotate(-90 31.90 620.80)">Bound anti-CXCR4 (%)</text>
<line x1="77.90" y1="581.60" x2="77.90" y2="577.00" stroke="#000" stroke-width="1.8"/>
<line x1="72.70" y1="577.00" x2="83.10" y2="577.00" stroke="#000" stroke-width="1.8"/>
<rect x="67.00" y="581.60" width="21.80" height="100.40" fill="#000"/>
<line x1="77.90" y1="682.00" x2="77.90" y2="685.50" stroke="#000" stroke-width="1.8"/>
<line x1="107.90" y1="580.20" x2="107.90" y2="570.30" stroke="#000" stroke-width="1.8"/>
<line x1="102.70" y1="570.30" x2="113.10" y2="570.30" stroke="#000" stroke-width="1.8"/>
<rect x="97.90" y="581.10" width="20.00" height="100.90" fill="#fff" stroke="#000" stroke-width="1.8"/>
<line x1="101.23" y1="582.00" x2="101.23" y2="682.00" stroke="#606060" stroke-width="1.0"/>
<line x1="104.57" y1="582.00" x2="104.57" y2="682.00" stroke="#606060" stroke-width="1.0"/>
<line x1="107.90" y1="582.00" x2="107.90" y2="682.00" stroke="#606060" stroke-width="1.0"/>
<line x1="111.23" y1="582.00" x2="111.23" y2="682.00" stroke="#606060" stroke-width="1.0"/>
<line x1="114.57" y1="582.00" x2="114.57" y2="682.00" stroke="#606060" stroke-width="1.0"/>
<line x1="107.90" y1="682.00" x2="107.90" y2="685.50" stroke="#000" stroke-width="1.8"/>
<rect x="127.90" y="580.90" width="20.00" height="101.10" fill="#fff" stroke="#000" stroke-width="1.8"/>
<line x1="137.90" y1="682.00" x2="137.90" y2="685.50" stroke="#000" stroke-width="1.8"/>
<rect x="127.00" y="579.9" width="21.8" height="2.4" fill="#000"/>
<line x1="167.90" y1="561.00" x2="167.90" y2="685.50" stroke="#000" stroke-width="2.0"/>
<rect x="187.00" y="580.50" width="21.80" height="101.50" fill="#000"/>
<line x1="197.90" y1="682.00" x2="197.90" y2="685.50" stroke="#000" stroke-width="1.8"/>
<rect x="217.90" y="587.10" width="20.00" height="94.90" fill="#fff" stroke="#000" stroke-width="1.8"/>
<line x1="227.90" y1="682.00" x2="227.90" y2="685.50" stroke="#000" stroke-width="1.8"/>
<rect x="217.00" y="586.1" width="21.8" height="2.4" fill="#000"/>
<text x="0" y="0" font-size="11.2" text-anchor="end" font-weight="bold" transform="translate(80.10 696.50) rotate(-43.5)">untreated</text>
<text x="0" y="0" font-size="11.2" text-anchor="end" font-weight="bold" transform="translate(110.10 696.50) rotate(-43.5)">control</text>
<text x="0" y="0" font-size="11.2" text-anchor="end" font-weight="bold" transform="translate(140.10 696.50) rotate(-43.5)">Rac1 C-term</text>
<text x="0" y="0" font-size="11.2" text-anchor="end" font-weight="bold" transform="translate(200.10 696.50) rotate(-43.5)">untreated</text>
<text x="0" y="0" font-size="11.2" text-anchor="end" font-weight="bold" transform="translate(230.10 696.50) rotate(-43.5)">NSC23766</text>
<line x1="58.50" y1="745.10" x2="239.60" y2="745.10" stroke="#000" stroke-width="2.0"/>
<text x="150.40" y="758.30" font-size="11" text-anchor="middle" font-weight="bold">mAb 4G10</text>
<text x="279.00" y="551.20" font-size="22" text-anchor="start" font-weight="bold">E</text>
<line x1="327.00" y1="559.70" x2="327.00" y2="684.05" stroke="#000" stroke-width="2.1"/>
<line x1="325.95" y1="683.00" x2="514.00" y2="683.00" stroke="#000" stroke-width="2.1"/>
<line x1="323.20" y1="683.00" x2="327.00" y2="683.00" stroke="#000" stroke-width="2.1"/>
<text x="0" y="0" font-size="10" text-anchor="end" font-weight="bold" transform="translate(321.60 686.55) scale(1.07 1)">0</text>
<line x1="323.20" y1="662.45" x2="327.00" y2="662.45" stroke="#000" stroke-width="2.1"/>
<text x="0" y="0" font-size="10" text-anchor="end" font-weight="bold" transform="translate(321.60 666.00) scale(1.07 1)">20</text>
<line x1="323.20" y1="641.90" x2="327.00" y2="641.90" stroke="#000" stroke-width="2.1"/>
<text x="0" y="0" font-size="10" text-anchor="end" font-weight="bold" transform="translate(321.60 645.45) scale(1.07 1)">40</text>
<line x1="323.20" y1="621.35" x2="327.00" y2="621.35" stroke="#000" stroke-width="2.1"/>
<text x="0" y="0" font-size="10" text-anchor="end" font-weight="bold" transform="translate(321.60 624.90) scale(1.07 1)">60</text>
<line x1="323.20" y1="600.80" x2="327.00" y2="600.80" stroke="#000" stroke-width="2.1"/>
<text x="0" y="0" font-size="10" text-anchor="end" font-weight="bold" transform="translate(321.60 604.35) scale(1.07 1)">80</text>
<line x1="323.20" y1="580.25" x2="327.00" y2="580.25" stroke="#000" stroke-width="2.1"/>
<text x="0" y="0" font-size="10" text-anchor="end" font-weight="bold" transform="translate(321.60 583.80) scale(1.07 1)">100</text>
<line x1="323.20" y1="559.70" x2="327.00" y2="559.70" stroke="#000" stroke-width="2.1"/>
<text x="0" y="0" font-size="10" text-anchor="end" font-weight="bold" transform="translate(321.60 563.25) scale(1.07 1)">120</text>
<text x="294.90" y="621.50" font-size="11.75" text-anchor="middle" font-weight="bold" transform="rotate(-90 294.90 621.50)">Surface CXCR4 (%)</text>
<line x1="345.80" y1="579.80" x2="345.80" y2="569.60" stroke="#000" stroke-width="2.1"/>
<line x1="338.80" y1="569.60" x2="352.80" y2="569.60" stroke="#000" stroke-width="2.1"/>
<rect x="332.40" y="579.80" width="26.80" height="103.20" fill="#000"/>
<line x1="345.80" y1="683.00" x2="345.80" y2="686.50" stroke="#000" stroke-width="2.1"/>
<line x1="383.10" y1="617.70" x2="383.10" y2="615.80" stroke="#000" stroke-width="2.1"/>
<line x1="376.10" y1="615.80" x2="390.10" y2="615.80" stroke="#000" stroke-width="2.1"/>
<rect x="370.75" y="618.75" width="24.70" height="64.25" fill="#fff" stroke="#000" stroke-width="2.1"/>
<line x1="383.10" y1="683.00" x2="383.10" y2="686.50" stroke="#000" stroke-width="2.1"/>
<line x1="420.40" y1="560.40" x2="420.40" y2="686.50" stroke="#000" stroke-width="2.1"/>
<line x1="457.70" y1="579.60" x2="457.70" y2="572.80" stroke="#000" stroke-width="2.1"/>
<line x1="450.70" y1="572.80" x2="464.70" y2="572.80" stroke="#000" stroke-width="2.1"/>
<rect x="444.30" y="579.60" width="26.80" height="103.40" fill="#000"/>
<line x1="457.70" y1="683.00" x2="457.70" y2="686.50" stroke="#000" stroke-width="2.1"/>
<line x1="495.00" y1="583.40" x2="495.00" y2="576.40" stroke="#000" stroke-width="2.1"/>
<line x1="488.00" y1="576.40" x2="502.00" y2="576.40" stroke="#000" stroke-width="2.1"/>
<rect x="482.65" y="584.45" width="24.70" height="98.55" fill="#fff" stroke="#000" stroke-width="2.1"/>
<line x1="495.00" y1="683.00" x2="495.00" y2="686.50" stroke="#000" stroke-width="2.1"/>
<path d="M345.80 564.20V560.00H383.80V564.20" fill="none" stroke="#000" stroke-width="2.1"/>
<text x="364.80" y="559.80" font-size="10.8" text-anchor="middle" font-weight="bold">*</text>
<text x="0" y="0" font-size="11.6" text-anchor="end" font-weight="bold" transform="translate(347.80 696.30) rotate(-45)">untreated</text>
<text x="0" y="0" font-size="11.6" text-anchor="end" font-weight="bold" transform="translate(385.10 696.30) rotate(-45)">NSC23766</text>
<text x="0" y="0" font-size="11.6" text-anchor="end" font-weight="bold" transform="translate(459.70 696.30) rotate(-45)">untreated</text>
<text x="0" y="0" font-size="11.6" text-anchor="end" font-weight="bold" transform="translate(497.00 696.30) rotate(-45)">NSC23766</text>
<line x1="311.60" y1="741.30" x2="401.50" y2="741.30" stroke="#000" stroke-width="2.0"/>
<line x1="424.40" y1="741.00" x2="510.50" y2="741.00" stroke="#000" stroke-width="2.0"/>
<text x="356.90" y="754.30" font-size="11.2" text-anchor="middle" font-weight="bold">mAb 44717</text>
<text x="466.60" y="754.30" font-size="11.4" text-anchor="middle" font-weight="bold">mAb 4G10</text></svg>
</body></html>
